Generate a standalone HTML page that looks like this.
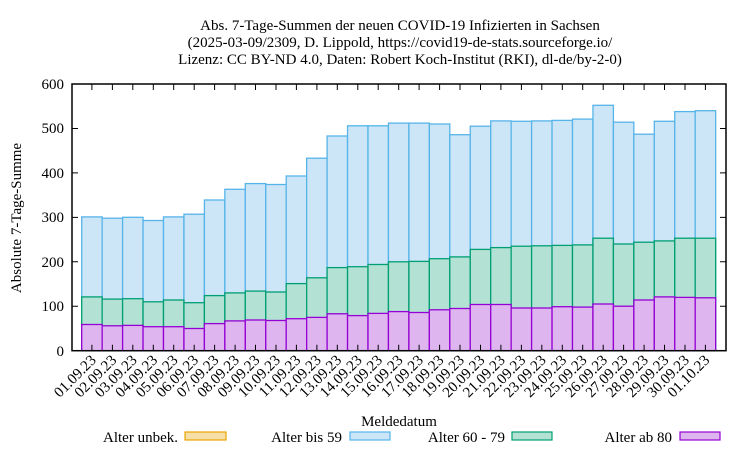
<!DOCTYPE html>
<html><head><meta charset="utf-8"><style>body{margin:0;background:#fff}svg{display:block}</style></head><body>
<svg width="750" height="450" xmlns="http://www.w3.org/2000/svg" font-family="Liberation Serif, serif" font-size="15">
<rect width="750" height="450" fill="#fff"/>
<g text-anchor="middle">
<text x="400" y="30">Abs. 7-Tage-Summen der neuen COVID-19 Infizierten in Sachsen</text>
<text x="400" y="47">(2025-03-09/2309, D. Lippold, https://covid19-de-stats.sourceforge.io/</text>
<text x="400" y="64">Lizenz: CC BY-ND 4.0, Daten: Robert Koch-Institut (RKI), dl-de/by-2-0)</text>
</g>
<g fill="#cce6f8" stroke="#56b4e9" stroke-width="1.3">
<rect x="81.7" y="216.9" width="20.45" height="133.8"/>
<rect x="102.15" y="218.2" width="20.45" height="132.5"/>
<rect x="122.6" y="217.3" width="20.45" height="133.4"/>
<rect x="143.05" y="220.5" width="20.45" height="130.2"/>
<rect x="163.5" y="216.9" width="20.45" height="133.8"/>
<rect x="183.95" y="214.2" width="20.45" height="136.5"/>
<rect x="204.4" y="200.0" width="20.45" height="150.7"/>
<rect x="224.85" y="189.3" width="20.45" height="161.4"/>
<rect x="245.3" y="183.6" width="20.45" height="167.1"/>
<rect x="265.75" y="184.5" width="20.45" height="166.2"/>
<rect x="286.2" y="176.0" width="20.45" height="174.7"/>
<rect x="306.65" y="158.2" width="20.45" height="192.5"/>
<rect x="327.1" y="136.0" width="20.45" height="214.7"/>
<rect x="347.55" y="125.8" width="20.45" height="224.9"/>
<rect x="368.0" y="125.8" width="20.45" height="224.9"/>
<rect x="388.45" y="123.1" width="20.45" height="227.6"/>
<rect x="408.9" y="123.1" width="20.45" height="227.6"/>
<rect x="429.35" y="124.0" width="20.45" height="226.7"/>
<rect x="449.8" y="134.7" width="20.45" height="216.0"/>
<rect x="470.25" y="126.2" width="20.45" height="224.5"/>
<rect x="490.7" y="120.9" width="20.45" height="229.8"/>
<rect x="511.15" y="121.3" width="20.45" height="229.4"/>
<rect x="531.6" y="120.9" width="20.45" height="229.8"/>
<rect x="552.05" y="120.4" width="20.45" height="230.3"/>
<rect x="572.5" y="119.1" width="20.45" height="231.6"/>
<rect x="592.95" y="105.3" width="20.45" height="245.4"/>
<rect x="613.4" y="122.2" width="20.45" height="228.5"/>
<rect x="633.85" y="134.2" width="20.45" height="216.5"/>
<rect x="654.3" y="121.3" width="20.45" height="229.4"/>
<rect x="674.75" y="111.6" width="20.45" height="239.1"/>
<rect x="695.2" y="110.7" width="20.45" height="240.0"/>
</g>
<g fill="#b3e2d4" stroke="#009e73" stroke-width="1.3">
<rect x="81.7" y="296.9" width="20.45" height="53.8"/>
<rect x="102.15" y="299.1" width="20.45" height="51.6"/>
<rect x="122.6" y="298.7" width="20.45" height="52.0"/>
<rect x="143.05" y="301.8" width="20.45" height="48.9"/>
<rect x="163.5" y="300.0" width="20.45" height="50.7"/>
<rect x="183.95" y="302.7" width="20.45" height="48.0"/>
<rect x="204.4" y="295.6" width="20.45" height="55.1"/>
<rect x="224.85" y="292.9" width="20.45" height="57.8"/>
<rect x="245.3" y="291.1" width="20.45" height="59.6"/>
<rect x="265.75" y="292.0" width="20.45" height="58.7"/>
<rect x="286.2" y="283.6" width="20.45" height="67.1"/>
<rect x="306.65" y="277.8" width="20.45" height="72.9"/>
<rect x="327.1" y="267.6" width="20.45" height="83.1"/>
<rect x="347.55" y="266.7" width="20.45" height="84.0"/>
<rect x="368.0" y="264.5" width="20.45" height="86.2"/>
<rect x="388.45" y="261.8" width="20.45" height="88.9"/>
<rect x="408.9" y="261.4" width="20.45" height="89.3"/>
<rect x="429.35" y="258.7" width="20.45" height="92.0"/>
<rect x="449.8" y="256.9" width="20.45" height="93.8"/>
<rect x="470.25" y="249.4" width="20.45" height="101.3"/>
<rect x="490.7" y="247.6" width="20.45" height="103.1"/>
<rect x="511.15" y="246.2" width="20.45" height="104.5"/>
<rect x="531.6" y="245.8" width="20.45" height="104.9"/>
<rect x="552.05" y="245.4" width="20.45" height="105.3"/>
<rect x="572.5" y="244.9" width="20.45" height="105.8"/>
<rect x="592.95" y="238.2" width="20.45" height="112.5"/>
<rect x="613.4" y="244.0" width="20.45" height="106.7"/>
<rect x="633.85" y="242.2" width="20.45" height="108.5"/>
<rect x="654.3" y="240.9" width="20.45" height="109.8"/>
<rect x="674.75" y="238.2" width="20.45" height="112.5"/>
<rect x="695.2" y="238.2" width="20.45" height="112.5"/>
</g>
<g fill="#dfb5f0" stroke="#9400d3" stroke-width="1.3">
<rect x="81.7" y="324.5" width="20.45" height="26.2"/>
<rect x="102.15" y="325.8" width="20.45" height="24.9"/>
<rect x="122.6" y="325.4" width="20.45" height="25.3"/>
<rect x="143.05" y="326.7" width="20.45" height="24.0"/>
<rect x="163.5" y="326.7" width="20.45" height="24.0"/>
<rect x="183.95" y="328.5" width="20.45" height="22.2"/>
<rect x="204.4" y="323.6" width="20.45" height="27.1"/>
<rect x="224.85" y="320.9" width="20.45" height="29.8"/>
<rect x="245.3" y="320.0" width="20.45" height="30.7"/>
<rect x="265.75" y="320.5" width="20.45" height="30.2"/>
<rect x="286.2" y="318.7" width="20.45" height="32.0"/>
<rect x="306.65" y="317.4" width="20.45" height="33.3"/>
<rect x="327.1" y="313.8" width="20.45" height="36.9"/>
<rect x="347.55" y="315.6" width="20.45" height="35.1"/>
<rect x="368.0" y="313.4" width="20.45" height="37.3"/>
<rect x="388.45" y="311.6" width="20.45" height="39.1"/>
<rect x="408.9" y="312.5" width="20.45" height="38.2"/>
<rect x="429.35" y="309.8" width="20.45" height="40.9"/>
<rect x="449.8" y="308.5" width="20.45" height="42.2"/>
<rect x="470.25" y="304.5" width="20.45" height="46.2"/>
<rect x="490.7" y="304.5" width="20.45" height="46.2"/>
<rect x="511.15" y="308.0" width="20.45" height="42.7"/>
<rect x="531.6" y="308.0" width="20.45" height="42.7"/>
<rect x="552.05" y="306.7" width="20.45" height="44.0"/>
<rect x="572.5" y="307.1" width="20.45" height="43.6"/>
<rect x="592.95" y="304.0" width="20.45" height="46.7"/>
<rect x="613.4" y="306.2" width="20.45" height="44.5"/>
<rect x="633.85" y="300.0" width="20.45" height="50.7"/>
<rect x="654.3" y="296.9" width="20.45" height="53.8"/>
<rect x="674.75" y="297.4" width="20.45" height="53.3"/>
<rect x="695.2" y="297.8" width="20.45" height="52.9"/>
</g>
<rect x="72" y="84" width="654" height="266.7" fill="none" stroke="#000" stroke-width="1.5"/>
<path stroke="#000" stroke-width="1" fill="none" d="M72 306.25h6M72 261.8h6M72 217.35h6M72 172.9h6M72 128.45h6M726 306.25h-6M726 261.8h-6M726 217.35h-6M726 172.9h-6M726 128.45h-6
M91.9 350.7v-6M112.4 350.7v-6M132.8 350.7v-6M153.3 350.7v-6M173.7 350.7v-6M194.2 350.7v-6M214.6 350.7v-6M235.1 350.7v-6M255.5 350.7v-6M276 350.7v-6M296.4 350.7v-6M316.9 350.7v-6M337.3 350.7v-6M357.8 350.7v-6M378.2 350.7v-6M398.7 350.7v-6M419.1 350.7v-6M439.6 350.7v-6M460 350.7v-6M480.5 350.7v-6M500.9 350.7v-6M521.4 350.7v-6M541.8 350.7v-6M562.3 350.7v-6M582.7 350.7v-6M603.2 350.7v-6M623.6 350.7v-6M644.1 350.7v-6M664.5 350.7v-6M685 350.7v-6M705.4 350.7v-6
M91.9 84v6M112.4 84v6M132.8 84v6M153.3 84v6M173.7 84v6M194.2 84v6M214.6 84v6M235.1 84v6M255.5 84v6M276 84v6M296.4 84v6M316.9 84v6M337.3 84v6M357.8 84v6M378.2 84v6M398.7 84v6M419.1 84v6M439.6 84v6M460 84v6M480.5 84v6M500.9 84v6M521.4 84v6M541.8 84v6M562.3 84v6M582.7 84v6M603.2 84v6M623.6 84v6M644.1 84v6M664.5 84v6M685 84v6M705.4 84v6"/>
<g text-anchor="end">
<text x="64" y="356">0</text><text x="64" y="311">100</text><text x="64" y="267">200</text><text x="64" y="222">300</text><text x="64" y="178">400</text><text x="64" y="133">500</text><text x="64" y="89">600</text>
</g>
<g text-anchor="end">
<text transform="translate(96.9,361) rotate(-45)">01.09.23</text>
<text transform="translate(117.4,361) rotate(-45)">02.09.23</text>
<text transform="translate(137.8,361) rotate(-45)">03.09.23</text>
<text transform="translate(158.3,361) rotate(-45)">04.09.23</text>
<text transform="translate(178.7,361) rotate(-45)">05.09.23</text>
<text transform="translate(199.2,361) rotate(-45)">06.09.23</text>
<text transform="translate(219.6,361) rotate(-45)">07.09.23</text>
<text transform="translate(240.1,361) rotate(-45)">08.09.23</text>
<text transform="translate(260.5,361) rotate(-45)">09.09.23</text>
<text transform="translate(281,361) rotate(-45)">10.09.23</text>
<text transform="translate(301.4,361) rotate(-45)">11.09.23</text>
<text transform="translate(321.9,361) rotate(-45)">12.09.23</text>
<text transform="translate(342.3,361) rotate(-45)">13.09.23</text>
<text transform="translate(362.8,361) rotate(-45)">14.09.23</text>
<text transform="translate(383.2,361) rotate(-45)">15.09.23</text>
<text transform="translate(403.7,361) rotate(-45)">16.09.23</text>
<text transform="translate(424.1,361) rotate(-45)">17.09.23</text>
<text transform="translate(444.6,361) rotate(-45)">18.09.23</text>
<text transform="translate(465,361) rotate(-45)">19.09.23</text>
<text transform="translate(485.5,361) rotate(-45)">20.09.23</text>
<text transform="translate(505.9,361) rotate(-45)">21.09.23</text>
<text transform="translate(526.4,361) rotate(-45)">22.09.23</text>
<text transform="translate(546.8,361) rotate(-45)">23.09.23</text>
<text transform="translate(567.3,361) rotate(-45)">24.09.23</text>
<text transform="translate(587.7,361) rotate(-45)">25.09.23</text>
<text transform="translate(608.2,361) rotate(-45)">26.09.23</text>
<text transform="translate(628.6,361) rotate(-45)">27.09.23</text>
<text transform="translate(649.1,361) rotate(-45)">28.09.23</text>
<text transform="translate(669.5,361) rotate(-45)">29.09.23</text>
<text transform="translate(690,361) rotate(-45)">30.09.23</text>
<text transform="translate(710.4,361) rotate(-45)">01.10.23</text>
</g>
<text transform="translate(21,218) rotate(-90)" text-anchor="middle">Absolute 7-Tage-Summe</text>
<text x="399" y="426" text-anchor="middle">Meldedatum</text>
<g text-anchor="end">
<text x="178" y="442">Alter unbek.</text><rect x="185" y="432" width="41" height="8" fill="#f7dfa8" stroke="#e8a500" stroke-width="1.2"/>
<text x="342" y="442">Alter bis 59</text><rect x="350" y="432" width="40" height="8" fill="#cce6f8" stroke="#56b4e9" stroke-width="1.2"/>
<text x="505" y="442">Alter 60 - 79</text><rect x="512" y="432" width="40" height="8" fill="#b3e2d4" stroke="#009e73" stroke-width="1.2"/>
<text x="672" y="442">Alter ab 80</text><rect x="680" y="432" width="40" height="8" fill="#dfb5f0" stroke="#9400d3" stroke-width="1.2"/>
</g>
</svg>
</body></html>
